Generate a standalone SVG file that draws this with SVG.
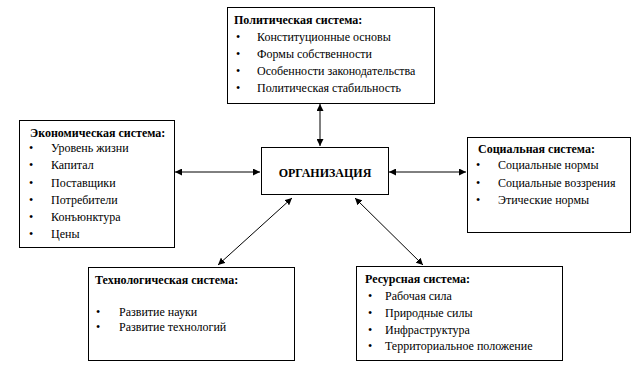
<svg xmlns="http://www.w3.org/2000/svg" width="638" height="369" viewBox="0 0 638 369">
<style>
  .box { fill: #ffffff; stroke: #000000; stroke-width: 1; }
  .t { font-family: "Liberation Serif", "Times New Roman", serif; font-size: 12px; fill: #000; }
  .b { font-weight: bold; }
  .conn { stroke: #000; stroke-width: 1; fill: none; marker-start: url(#ah); marker-end: url(#ah); }
</style>
<defs>
  <marker id="ah" viewBox="0 0 10 10" refX="10" refY="5" markerWidth="7" markerHeight="7" markerUnits="userSpaceOnUse" orient="auto-start-reverse">
    <path d="M0,0 L10,5 L0,10 z" fill="#000"/>
  </marker>
</defs>
<rect width="638" height="369" fill="#ffffff"/>

<g id="connectors">
  <line class="conn" x1="320" y1="104" x2="320" y2="146"/>
  <line class="conn" x1="175" y1="172" x2="260" y2="172"/>
  <line class="conn" x1="389" y1="172" x2="466" y2="172"/>
  <line class="conn" x1="292" y1="198" x2="218" y2="265"/>
  <line class="conn" x1="355" y1="198" x2="423" y2="265"/>
</g>

<g id="political">
  <rect class="box" x="227.5" y="7.5" width="207" height="96"/>
  <text class="t b" x="234" y="24">Политическая система:</text>
  <text class="t" x="236" y="41">•</text><text class="t" x="257" y="41">Конституционные основы</text>
  <text class="t" x="236" y="58">•</text><text class="t" x="257" y="58">Формы собственности</text>
  <text class="t" x="236" y="75">•</text><text class="t" x="257" y="75">Особенности законодательства</text>
  <text class="t" x="236" y="92">•</text><text class="t" x="257" y="92">Политическая стабильность</text>
</g>

<g id="economic">
  <rect class="box" x="19.5" y="120.5" width="155" height="127"/>
  <text class="t b" x="30" y="137">Экономическая система:</text>
  <text class="t" x="29" y="152">•</text><text class="t" x="51" y="152">Уровень жизни</text>
  <text class="t" x="29" y="169">•</text><text class="t" x="51" y="169">Капитал</text>
  <text class="t" x="29" y="187">•</text><text class="t" x="51" y="187">Поставщики</text>
  <text class="t" x="29" y="204">•</text><text class="t" x="51" y="204">Потребители</text>
  <text class="t" x="29" y="221">•</text><text class="t" x="51" y="221">Конъюнктура</text>
  <text class="t" x="29" y="238">•</text><text class="t" x="51" y="238">Цены</text>
</g>

<g id="organization">
  <rect class="box" x="261.5" y="147.5" width="127" height="47"/>
  <text class="t b" x="325" y="177" text-anchor="middle">ОРГАНИЗАЦИЯ</text>
</g>

<g id="social">
  <rect class="box" x="467.5" y="137.5" width="163" height="95"/>
  <text class="t b" x="478" y="153">Социальная система:</text>
  <text class="t" x="476" y="169">•</text><text class="t" x="498" y="169">Социальные нормы</text>
  <text class="t" x="476" y="187">•</text><text class="t" x="498" y="187">Социальные воззрения</text>
  <text class="t" x="476" y="204">•</text><text class="t" x="498" y="204">Этические нормы</text>
</g>

<g id="technological">
  <rect class="box" x="88.5" y="267.5" width="206" height="93"/>
  <text class="t b" x="95" y="284">Технологическая система:</text>
  <text class="t" x="96" y="316">•</text><text class="t" x="119" y="316">Развитие науки</text>
  <text class="t" x="96" y="331">•</text><text class="t" x="119" y="331">Развитие технологий</text>
</g>

<g id="resource">
  <rect class="box" x="356.5" y="266.5" width="206" height="94"/>
  <text class="t b" x="365" y="283">Ресурсная система:</text>
  <text class="t" x="368" y="300">•</text><text class="t" x="385" y="300">Рабочая сила</text>
  <text class="t" x="368" y="317">•</text><text class="t" x="385" y="317">Природные силы</text>
  <text class="t" x="368" y="334">•</text><text class="t" x="385" y="334">Инфраструктура</text>
  <text class="t" x="368" y="350">•</text><text class="t" x="385" y="350">Территориальное положение</text>
</g>
</svg>
